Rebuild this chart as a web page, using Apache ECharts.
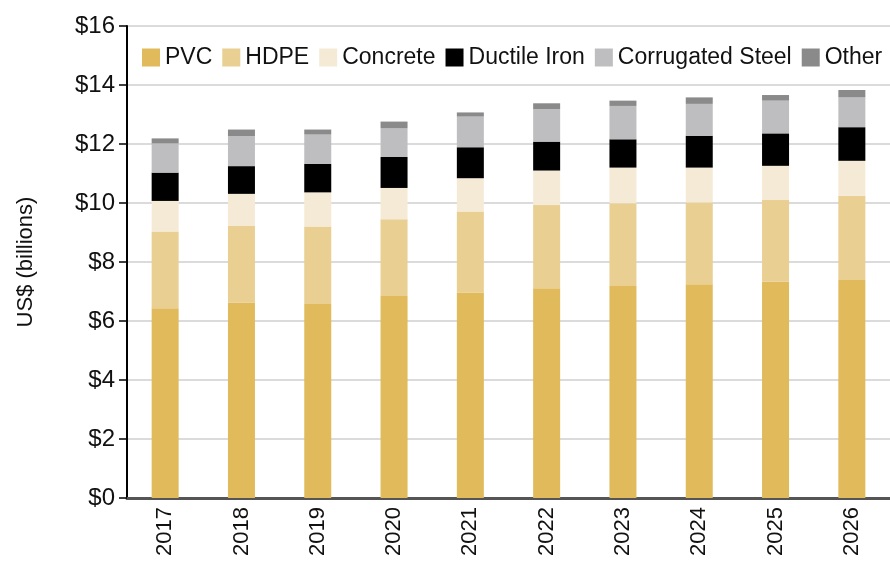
<!DOCTYPE html>
<html lang="en">
<head>
    <meta charset="UTF-8">
    <title>Pipe Market by Material</title>
    <script src="https://cdn.jsdelivr.net/npm/echarts@6/dist/echarts.min.js"></script>
    <style>
        html, body { margin: 0; padding: 0; background: #fff; }
        #chart { width: 890px; height: 562px; }
    </style>
</head>
<body>
<div id="chart"></div>
<script>
    // years on the x axis
    var years = ['2017', '2018', '2019', '2020', '2021', '2022', '2023', '2024', '2025', '2026'];
    // US$ billions
    var pvc        = [6.43, 6.63, 6.58, 6.85, 6.97, 7.11, 7.19, 7.25, 7.33, 7.39];
    var hdpe       = [2.60, 2.59, 2.62, 2.60, 2.74, 2.82, 2.80, 2.77, 2.77, 2.85];
    var concrete   = [1.04, 1.09, 1.16, 1.06, 1.13, 1.17, 1.21, 1.18, 1.16, 1.19];
    var ductile    = [0.96, 0.94, 0.97, 1.05, 1.05, 0.98, 0.96, 1.08, 1.10, 1.14];
    var corrugated = [0.99, 1.02, 0.99, 0.97, 1.04, 1.10, 1.13, 1.08, 1.11, 1.01];
    var other      = [0.17, 0.22, 0.17, 0.23, 0.14, 0.20, 0.18, 0.22, 0.19, 0.25];

    var names  = ['PVC', 'HDPE', 'Concrete', 'Ductile Iron', 'Corrugated Steel', 'Other'];
    var values = [pvc, hdpe, concrete, ductile, corrugated, other];
    var colors = ['#e0ba5b', '#e9cf92', '#f5ead5', '#000000', '#bebec0', '#8a8a8a'];

    var font = 'Liberation Sans, Arial, sans-serif';

    var series = [];
    for (var i = 0; i < names.length; i++) {
        series.push({
            name: names[i],
            type: 'bar',
            stack: 'total',
            barWidth: 27,
            data: values[i],
            itemStyle: { color: colors[i] }
        });
    }

    var option = {
        animation: false,
        color: colors,
        textStyle: { fontFamily: font },
        grid: { left: 127, right: 0, top: 26, bottom: 64 },
        legend: {
            data: names,
            left: 137,
            top: 41,
            itemWidth: 18,
            itemHeight: 18,
            itemGap: 10,
            icon: 'rect',
            textStyle: { fontFamily: font, fontSize: 23, color: '#111' }
        },
        xAxis: {
            type: 'category',
            data: years,
            axisLine: { lineStyle: { color: '#555', width: 3 } },
            axisTick: { show: false },
            axisLabel: {
                rotate: 90,
                fontFamily: font,
                fontSize: 22,
                color: '#111',
                margin: 9
            }
        },
        yAxis: {
            type: 'value',
            min: 0,
            max: 16,
            interval: 2,
            name: 'US$ (billions)',
            nameLocation: 'middle',
            nameGap: 90,
            nameTextStyle: { fontFamily: font, fontSize: 22, color: '#111' },
            axisLine: { show: true, lineStyle: { color: '#000', width: 2 } },
            axisTick: { show: true, length: 8, lineStyle: { color: '#000', width: 1.5 } },
            axisLabel: {
                formatter: '${value}',
                fontFamily: font,
                fontSize: 24,
                color: '#111',
                margin: 12
            },
            splitLine: { lineStyle: { color: '#cfcfcf', width: 1.5 } }
        },
        series: series
    };

    echarts.init(document.getElementById('chart')).setOption(option);
</script>
</body>
</html>
